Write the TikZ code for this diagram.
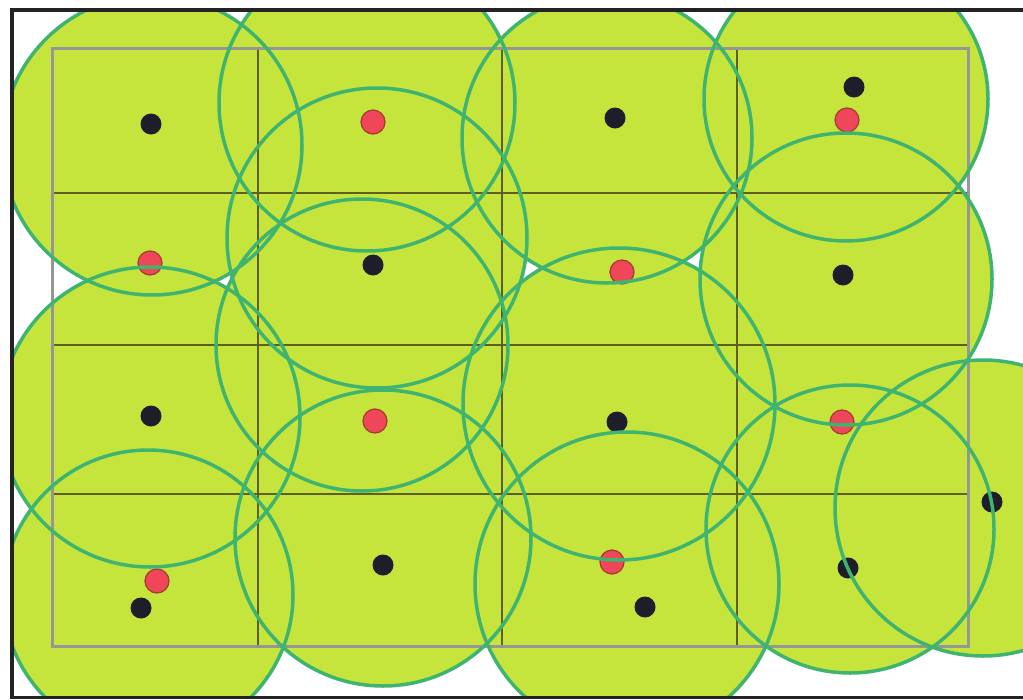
\documentclass[tikz,border=0pt]{standalone}
\definecolor{fillg}{RGB}{197,229,60}
\definecolor{ring}{RGB}{62,180,112}
\definecolor{gridc}{RGB}{95,95,35}
\definecolor{rectc}{RGB}{150,150,150}
\definecolor{reddot}{RGB}{240,70,90}
\definecolor{redrim}{RGB}{160,60,45}
\definecolor{blackdot}{RGB}{30,30,42}
\definecolor{framec}{RGB}{35,35,35}
\def\circlist{152/145/150, 367/103/148, 607/138/145, 846/99/142, 846/279/146, 377/238/150, 362/345/146, 150/417/150, 619/404/156, 383/538/148, 627/584/152, 850/529/144, 983/508/148, 148/595/145}
\begin{document}
\begin{tikzpicture}[x=1pt,y=-1pt,
  cov/.style={fill=fillg},
  covrim/.style={draw=ring,line width=3.5pt},
  gridl/.style={draw=gridc,line width=2.2pt},
  outer/.style={draw=rectc,line width=3pt},
  bdot/.style={fill=blackdot},
  rdot/.style={fill=reddot,draw=redrim,line width=1.2pt},
  framel/.style={draw=framec,line width=4pt}]
\path[use as bounding box] (0,0) rectangle (1023,699);
\fill[white] (0,0) rectangle (1023,699);
\begin{scope}
\clip (14,12) rectangle (1023,695);
\foreach \a/\b/\r in \circlist {\fill[cov] (\a,\b) circle[radius=\r pt];}
\draw[gridl] (52,193) -- (968,193);
\draw[gridl] (52,345) -- (968,345);
\draw[gridl] (52,494) -- (968,494);
\draw[gridl] (258,48) -- (258,646);
\draw[gridl] (502,48) -- (502,646);
\draw[gridl] (737,48) -- (737,646);
\draw[outer] (52,48) rectangle (968,646);
\foreach \a/\b in {151/124, 615/118, 854/87, 373/265, 843/275, 151/416, 617/422, 383/565, 141/608, 645/607, 848/568, 992/502}
  {\fill[bdot] (\a,\b) circle[radius=10.5pt];}
\foreach \a/\b in {373/122, 847/120, 150/263, 622/272, 375/421, 842/422, 157/581, 612/562}
  {\filldraw[rdot] (\a,\b) circle[radius=12pt];}
\foreach \a/\b/\r in \circlist {\draw[covrim] (\a,\b) circle[radius=\r pt];}
\end{scope}
\draw[framel] (10,10) -- (1023,10);
\draw[framel] (12,8) -- (12,697);
\draw[framel,line width=3pt] (10,697) -- (1023,697);
\end{tikzpicture}
\end{document}
